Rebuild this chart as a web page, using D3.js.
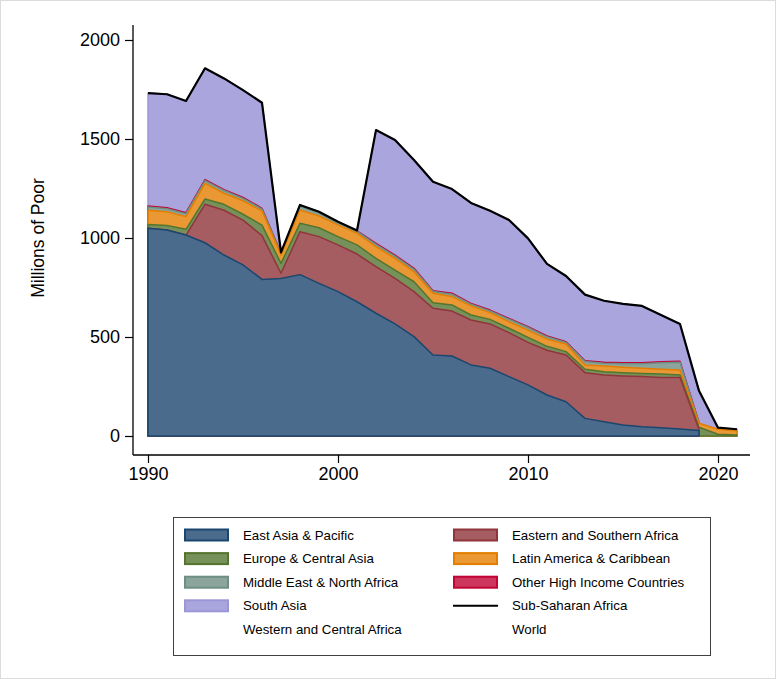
<!DOCTYPE html>
<html>
<head>
<meta charset="utf-8">
<script src="https://cdn.jsdelivr.net/npm/d3@7"></script>
<style>
  html, body { margin: 0; padding: 0; background: #fff; }
  svg { display: block; font-family: "Liberation Sans", Arial, sans-serif; }
</style>
</head>
<body>
<svg id="chart" width="776" height="679"></svg>
<script>
// ---------------- DATA ----------------
const years = [1990,1991,1992,1993,1994,1995,1996,1997,1998,1999,2000,2001,2002,2003,2004,2005,
               2006,2007,2008,2009,2010,2011,2012,2013,2014,2015,2016,2017,2018,2019,2020,2021];

const eastAsiaPacific       = [1049,1040,1015,976,914,864,791,796,815,771,729,678,620,566,502,409,
                               404,359,342,300,258,207,173,89,72,56,47,42,35,28,null,null];
const easternSouthernAfrica = [0,0,0,194,226,226,221,26,217,236,236,241,235,230,227,236,
                               227,227,224,222,215,226,236,231,236,247,253,254,260,5,null,null];
const europeCentralAsia     = [19,23,29,27,30,30,53,50,42,45,42,46,42,42,50,28,
                               31,25,23,22,25,20,17,17,17,17,16,17,13,11,9,5];
const latinAmericaCaribbean = [72,70,64,79,56,68,71,42,67,59,59,59,59,59,51,48,
                               42,46,34,33,37,36,39,22,29,27,26,24,25,20,25,22];
const middleEastNorthAfrica = [16,15,15,14,14,12,10,6,18,15,11,9,12,12,12,9,
                               12,9,9,13,13,12,7,17,14,18,23,33,39,2,null,null];
const otherHighIncome       = [6,5,5,5,4,5,4,3,4,3,3,3,5,5,5,4,
                               5,4,4,4,4,4,4,4,4,5,5,5,5,2,null,null];
const southAsia             = [570,573,564,562,562,542,533,4,4,4,2,2,572,581,547,550,
                               526,507,502,497,446,364,332,334,311,297,287,236,189,160,8,7];

const legendLeft  = ["East Asia & Pacific","Europe & Central Asia","Middle East & North Africa","South Asia","Western and Central Africa"];
const legendRight = ["Eastern and Southern Africa","Latin America & Caribbean","Other High Income Countries","Sub-Saharan Africa","World"];
const xTicks = [1990, 2000, 2010, 2020];
const yTicks = [0, 500, 1000, 1500, 2000];

// stacking order bottom -> top
const layers = [
  {name:"East Asia & Pacific",          values:eastAsiaPacific,       fill:"#4a6b8b", stroke:"#1a476f"},
  {name:"Eastern and Southern Africa",  values:easternSouthernAfrica, fill:"#a65d61", stroke:"#90353b"},
  {name:"Europe & Central Asia",        values:europeCentralAsia,     fill:"#77915a", stroke:"#55752f"},
  {name:"Latin America & Caribbean",    values:latinAmericaCaribbean, fill:"#e99834", stroke:"#e37e00"},
  {name:"Middle East & North Africa",   values:middleEastNorthAfrica, fill:"#8ba59d", stroke:"#6e8e84"},
  {name:"Other High Income Countries",  values:otherHighIncome,       fill:"#cd375d", stroke:"#c10534"},
  {name:"South Asia",                   values:southAsia,             fill:"#aaa5dd", stroke:"#9b96d6"}
];

// cumulative tops
const running = years.map(() => 0);
layers.forEach(l => {
  l.cum = years.map((yr, i) => {
    const v = l.values[i];
    running[i] += (v == null ? 0 : v);
    return {year: yr, top: running[i], defined: v != null};
  });
});
const total = years.map((yr, i) => ({year: yr, top: running[i]}));

// ---------------- DRAW ----------------
const svg = d3.select("#chart");

svg.append("rect").attr("x",0.5).attr("y",0.5).attr("width",775).attr("height",678)
  .attr("fill","#fff").attr("stroke","#dcdcdc").attr("stroke-width",1);

const x = d3.scaleLinear().domain([1990, 2020]).range([148, 718]);
const y = d3.scaleLinear().domain([0, 2000]).range([436, 40]);

const g = svg.append("g");

const area = d3.area()
  .defined(d => d.defined)
  .x(d => x(d.year))
  .y0(y(0))
  .y1(d => y(d.top));

layers.slice().reverse().forEach(l => {
  g.append("path")
    .attr("d", area(l.cum))
    .attr("fill", l.fill)
    .attr("stroke", l.stroke)
    .attr("stroke-width", 1.5)
    .attr("stroke-linejoin", "round");
});

const line = d3.line().x(d => x(d.year)).y(d => y(d.top));
g.append("path").attr("d", line(total))
  .attr("fill","none").attr("stroke","#000").attr("stroke-width",2.2)
  .attr("stroke-linejoin","round");

// axes
const yAxis = d3.axisLeft(y).tickValues(yTicks).tickFormat(d3.format("d")).tickSize(8).tickPadding(5).tickSizeOuter(0);
const yg = svg.append("g").attr("transform","translate(133,0)").call(yAxis);
yg.select(".domain").remove();
yg.append("line").attr("x1",0).attr("x2",0).attr("y1",25).attr("y2",455).attr("stroke","#000").attr("stroke-width",1.3);
yg.selectAll(".tick line").attr("stroke","#000").attr("stroke-width",1.2);
yg.selectAll(".tick text").attr("font-size",18).attr("fill","#000")
  .attr("font-family","Liberation Sans, Arial, sans-serif");

const xAxis = d3.axisBottom(x).tickValues(xTicks).tickFormat(d3.format("d")).tickSize(8).tickPadding(4).tickSizeOuter(0);
const xg = svg.append("g").attr("transform","translate(0,455)").call(xAxis);
xg.select(".domain").remove();
xg.append("line").attr("x1",133).attr("x2",750).attr("y1",0).attr("y2",0).attr("stroke","#000").attr("stroke-width",1.3);
xg.selectAll(".tick line").attr("stroke","#000").attr("stroke-width",1.2);
xg.selectAll(".tick text").attr("font-size",18).attr("fill","#000")
  .attr("font-family","Liberation Sans, Arial, sans-serif");

svg.append("text")
  .attr("transform","translate(44,238) rotate(-90)")
  .attr("text-anchor","middle")
  .attr("font-size",17.5)
  .attr("fill","#000")
  .text("Millions of Poor");

// legend
const lg = svg.append("g");
lg.append("rect").attr("x",173.5).attr("y",517.5).attr("width",537).attr("height",138)
  .attr("fill","#fff").attr("stroke","#404040").attr("stroke-width",1);

const rowY = i => 535 + i * 23.6;
const findLayer = n => layers.find(l => l.name === n);

function legendItem(name, i, sx, tx) {
  const l = findLayer(name);
  if (l) {
    lg.append("rect").attr("x",sx+1).attr("y",rowY(i)-5.5).attr("width",43).attr("height",11)
      .attr("fill",l.fill).attr("stroke",l.stroke).attr("stroke-width",2);
  } else if (name === "Sub-Saharan Africa") {
    lg.append("line").attr("x1",sx).attr("x2",sx+45).attr("y1",rowY(i)).attr("y2",rowY(i))
      .attr("stroke","#000").attr("stroke-width",2);
  }
  lg.append("text").attr("x",tx).attr("y",rowY(i)).attr("dy","0.35em")
    .attr("font-size",13.3).attr("fill","#000").text(name);
}
legendLeft.forEach((n,i) => legendItem(n, i, 184, 243));
legendRight.forEach((n,i) => legendItem(n, i, 453, 512));
</script>
</body>
</html>
